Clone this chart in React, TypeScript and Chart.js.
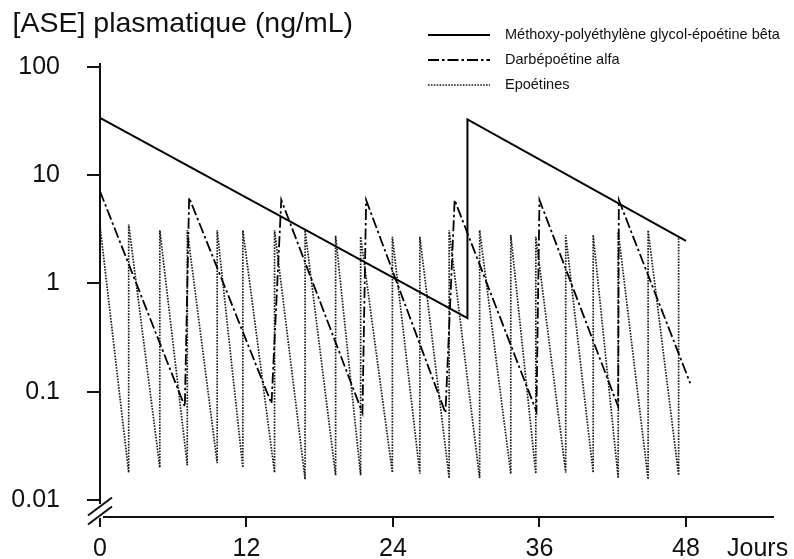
import React, { useEffect, useRef } from 'react';
import { Chart, registerables } from 'chart.js';

Chart.register(...registerables);

// ---- text ----
const yTitle = '[ASE] plasmatique (ng/mL)';
const xUnit = 'Jours';

// ---- axes ----
const xTicks = [0, 12, 24, 36, 48];
const yTicks = [0.01, 0.1, 1, 10, 100];
const yTickLabels = ['0.01', '0.1', '1', '10', '100'];

// ---- series: Méthoxy-polyéthylène glycol-époétine bêta ----
const mirLabel = 'Méthoxy-polyéthylène glycol-époétine bêta';
const mirDays = [0, 30.1, 30.1, 48.0];
const mirValues = [33.7, 0.48, 32.6, 2.47];

// ---- series: Darbépoétine alfa ----
const darbeLabel = 'Darbépoétine alfa';
const darbeDays = [0, 6.95, 7.3, 14.05, 14.85, 21.5, 21.8, 28.3, 29.05, 35.75, 36.0, 42.45, 42.5, 48.35];
const darbeValues = [7.1, 0.073, 6.2, 0.078, 5.9, 0.064, 5.9, 0.064, 5.9, 0.066, 5.9, 0.073, 5.9, 0.12];

// ---- series: Epoétines (dose days, peak after dose, trough just before next dose) ----
const epoLabel = 'Epoétines';
const epoDoseDays = [0, 2.35, 4.9, 7.15, 9.6, 11.7, 14.3, 16.8, 19.3, 21.35, 23.95, 26.2, 28.6, 31.1, 33.65, 35.7, 38.15, 40.4, 42.45, 44.9, 47.4];
const epoPeaks = [3.4, 3.5, 3.1, 3.1, 3.1, 3.1, 3.1, 3.1, 2.75, 2.7, 2.7, 2.7, 3.1, 3.1, 2.8, 2.7, 2.8, 2.8, 3.0, 3.1, 2.7];
const epoTroughs = [0.018, 0.02, 0.021, 0.022, 0.02, 0.018, 0.0156, 0.017, 0.017, 0.018, 0.0176, 0.016, 0.016, 0.0175, 0.0176, 0.018, 0.018, 0.016, 0.0156, 0.017];

const FONT = '"Liberation Sans", Arial, Helvetica, sans-serif';
const INK = '#111';

function pairs(xs: number[], ys: number[]) {
  return xs.map((x, i) => ({ x, y: ys[i] }));
}

function epoPoints() {
  const pts: { x: number; y: number }[] = [{ x: epoDoseDays[0], y: epoPeaks[0] }];
  for (let i = 1; i < epoDoseDays.length; i++) {
    pts.push({ x: epoDoseDays[i], y: epoTroughs[i - 1] });
    pts.push({ x: epoDoseDays[i], y: epoPeaks[i] });
  }
  return pts;
}

const legendPlugin = {
  id: 'lineLegend',
  afterDraw(chart: any, _args: any, opts: any) {
    const ctx = chart.ctx;
    chart.data.datasets.forEach((ds: any, i: number) => {
      const y = opts.y + i * opts.rowHeight;
      ctx.save();
      ctx.strokeStyle = ds.borderColor;
      ctx.lineWidth = ds.borderWidth;
      ctx.setLineDash(ds.borderDash || []);
      ctx.beginPath();
      ctx.moveTo(opts.x, y);
      ctx.lineTo(opts.x + opts.lineLength, y);
      ctx.stroke();
      ctx.setLineDash([]);
      ctx.fillStyle = INK;
      ctx.font = `${opts.fontSize}px ${FONT}`;
      ctx.textBaseline = 'middle';
      ctx.textAlign = 'left';
      ctx.fillText(ds.label, opts.x + opts.lineLength + opts.gap, y);
      ctx.restore();
    });
  },
};

const axisExtrasPlugin = {
  id: 'axisExtras',
  afterDraw(chart: any, _args: any, opts: any) {
    const ctx = chart.ctx;
    const xs = chart.scales.x;
    const area = chart.chartArea;
    ctx.save();
    // y-axis title, horizontal above the axis
    ctx.fillStyle = INK;
    ctx.font = `${opts.titleSize}px ${FONT}`;
    ctx.textBaseline = 'alphabetic';
    ctx.textAlign = 'left';
    ctx.fillText(yTitle, opts.titleX, opts.titleBaseline);
    // axis break on the y axis
    const bx = area.left;
    ctx.fillStyle = '#fff';
    ctx.fillRect(bx - 3, opts.breakTop, 6, opts.breakBottom - opts.breakTop);
    ctx.strokeStyle = INK;
    ctx.lineWidth = 2;
    [opts.breakTop + 2.5, opts.breakBottom - 2.5].forEach((cy: number) => {
      ctx.beginPath();
      ctx.moveTo(bx - 12, cy + 9);
      ctx.lineTo(bx + 12, cy - 9);
      ctx.stroke();
    });
    // unit label on the x axis row
    const tickOpts = xs.options;
    const size = tickOpts.ticks.font.size;
    const ly = xs.top + tickOpts.grid.tickLength + tickOpts.ticks.padding + (size * 1.2) / 2;
    ctx.fillStyle = INK;
    ctx.font = `${size}px ${FONT}`;
    ctx.textBaseline = 'middle';
    ctx.textAlign = 'left';
    ctx.fillText(xUnit, area.right - 46, ly);
    ctx.restore();
  },
};

function ChartView() {
  const ref = useRef<HTMLCanvasElement | null>(null);
  useEffect(() => {
    if (!ref.current) return;
    Chart.defaults.font.family = FONT;
    Chart.defaults.color = INK;
    const chart = new Chart(ref.current, {
      type: 'line',
      data: {
        datasets: [
          {
            label: mirLabel,
            data: pairs(mirDays, mirValues),
            borderColor: '#000',
            borderWidth: 2,
            borderDash: [],
          },
          {
            label: darbeLabel,
            data: pairs(darbeDays, darbeValues),
            borderColor: '#000',
            borderWidth: 1.8,
            borderDash: [11, 3, 2.5, 3],
          },
          {
            label: epoLabel,
            data: epoPoints(),
            borderColor: '#1a1a1a',
            borderWidth: 1.7,
            borderDash: [1.6, 1.3],
          },
        ],
      },
      options: {
        animation: false,
        responsive: false,
        devicePixelRatio: 1,
        events: [],
        elements: {
          point: { radius: 0 },
          line: { tension: 0, fill: false },
        },
        layout: { padding: { left: 0, right: 21, top: 64, bottom: 0 } },
        plugins: {
          legend: { display: false },
          tooltip: { enabled: false },
          title: { display: false },
          lineLegend: { x: 428, y: 35, rowHeight: 25, lineLength: 62, gap: 15, fontSize: 14.5 },
          axisExtras: { breakTop: 504, breakBottom: 518, titleSize: 28.5, titleX: 12.5, titleBaseline: 31.7 },
        } as any,
        scales: {
          x: {
            type: 'linear',
            min: 0,
            max: 55.13,
            bounds: 'data',
            afterFit: (s: any) => {
              s.height = 39.5;
            },
            afterBuildTicks: (s: any) => {
              s.ticks = xTicks.map((v) => ({ value: v }));
            },
            ticks: {
              font: { size: 25, family: FONT },
              color: INK,
              padding: 7,
              maxRotation: 0,
              autoSkip: false,
              callback: (v: any) => String(v),
            },
            grid: { drawOnChartArea: false, color: INK, lineWidth: 2, tickLength: 10 },
            border: { color: INK, width: 2 },
          },
          y: {
            type: 'logarithmic',
            min: 0.007,
            max: 106,
            bounds: 'data',
            afterFit: (s: any) => {
              s.width = 100;
            },
            afterBuildTicks: (s: any) => {
              s.ticks = yTicks.map((v) => ({ value: v }));
            },
            ticks: {
              font: { size: 25, family: FONT },
              color: INK,
              padding: 27,
              autoSkip: false,
              callback: (_v: any, i: number) => yTickLabels[i],
            },
            grid: { drawOnChartArea: false, color: INK, lineWidth: 2, tickLength: 13 },
            border: { color: INK, width: 2 },
          },
        },
      } as any,
      plugins: [legendPlugin, axisExtrasPlugin],
    });
    return () => chart.destroy();
  }, []);
  return <canvas ref={ref} width={794} height={559} style={{ display: 'block' }} />;
}

export default function App() {
  return (
    <div style={{ position: 'absolute', left: 0, top: 0, width: 794, height: 559, background: '#fff' }}>
      <ChartView />
    </div>
  );
}
